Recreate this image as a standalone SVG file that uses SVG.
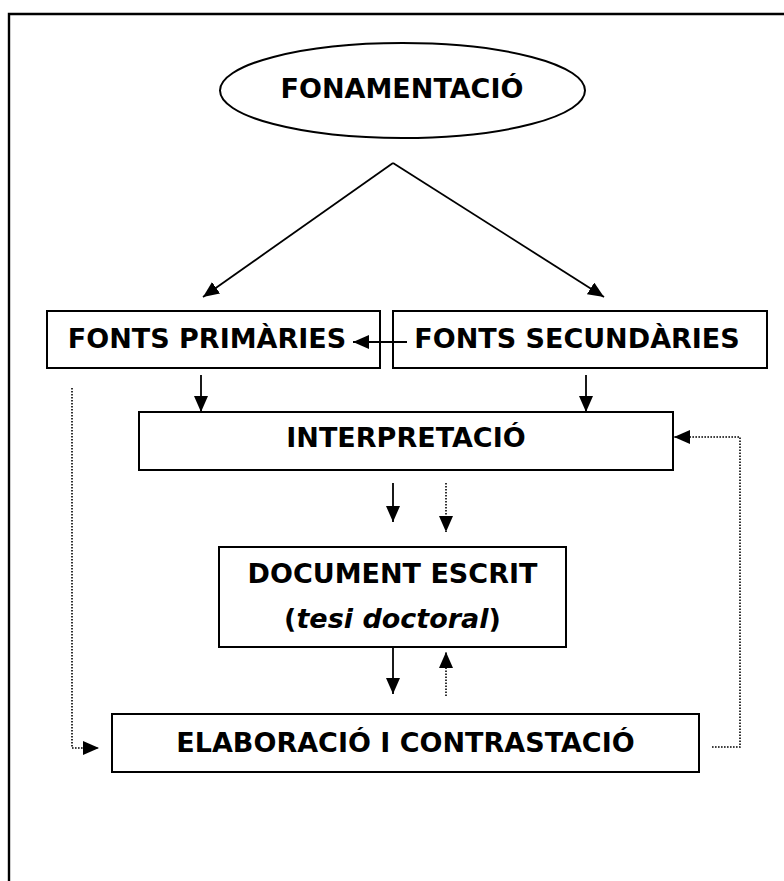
<svg xmlns="http://www.w3.org/2000/svg" width="784" height="881" viewBox="0 0 784 881">
<style>
.box{fill:#fff;stroke:#000;stroke-width:2}
.t{font-family:"DejaVu Sans","Verdana",sans-serif;font-weight:bold;font-size:27px;fill:#000;text-anchor:middle}
.c{fill:none;stroke:#000;stroke-width:1.8}
.d{fill:none;stroke:#000;stroke-width:1.6;stroke-dasharray:1.6 1.4}
</style>
<defs>
<marker id="ah" markerUnits="userSpaceOnUse" markerWidth="17" markerHeight="15" refX="16" refY="7" orient="auto">
<path d="M0,0 L16,7 L0,14 z" fill="#000"/>
</marker>
</defs>
<rect width="784" height="881" fill="#fff"/>
<path d="M9,881 V14 H784" fill="none" stroke="#000" stroke-width="2.4"/>

<g id="fonamentacio">
<ellipse cx="402.5" cy="90.5" rx="182.5" ry="47.5" fill="#fff" stroke="#000" stroke-width="2"/>
<text class="t" x="402" y="98">FONAMENTACIÓ</text>
</g>

<g id="fonts-primaries">
<rect class="box" x="47" y="311" width="333" height="57"/>
<text class="t" x="207" y="348">FONTS PRIMÀRIES</text>
</g>

<g id="fonts-secundaries">
<rect class="box" x="393" y="311" width="374" height="57"/>
<text class="t" x="577" y="348">FONTS SECUNDÀRIES</text>
</g>

<g id="interpretacio">
<rect class="box" x="139" y="412" width="534" height="58"/>
<text class="t" x="406" y="447">INTERPRETACIÓ</text>
</g>

<g id="document">
<rect class="box" x="219" y="547" width="347" height="100"/>
<text class="t" x="392.5" y="583">DOCUMENT ESCRIT</text>
<text class="t" x="392.5" y="628">(<tspan font-style="italic">tesi doctoral</tspan>)</text>
</g>

<g id="elaboracio">
<rect class="box" x="112" y="714" width="587" height="58"/>
<text class="t" x="405.5" y="752">ELABORACIÓ I CONTRASTACIÓ</text>
</g>

<g id="connectors">
<path class="c" d="M393,163 L203,297" marker-end="url(#ah)"/>
<path class="c" d="M393,163 L604,297" marker-end="url(#ah)"/>
<path class="c" d="M407,342 L353,342" marker-end="url(#ah)"/>
<path class="c" d="M201,375 V412" marker-end="url(#ah)"/>
<path class="c" d="M586,375 V412" marker-end="url(#ah)"/>
<path class="c" d="M393,483 V522" marker-end="url(#ah)"/>
<path class="d" d="M446,483 V532" marker-end="url(#ah)"/>
<path class="c" d="M393,647 V694" marker-end="url(#ah)"/>
<path class="d" d="M446,696 V652" marker-end="url(#ah)"/>
<path class="d" d="M712,747 H740 V437 H674" marker-end="url(#ah)"/>
<path class="d" d="M72,388 V748 H99" marker-end="url(#ah)"/>
</g>
</svg>
